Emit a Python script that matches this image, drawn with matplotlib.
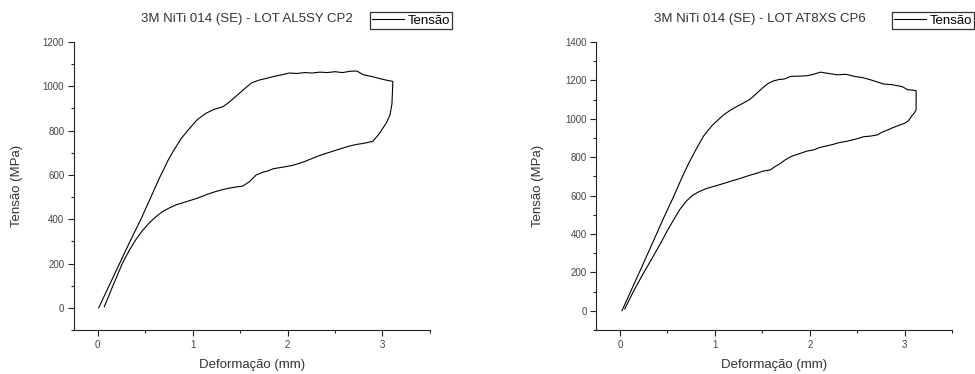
import numpy as np
import matplotlib
matplotlib.use("Agg")
from matplotlib import pyplot as plt
from matplotlib.ticker import MultipleLocator

# sample AL5SY CP2 - loading branch then unloading branch
x_cp2_load = [0.01, 0.12, 0.23, 0.34, 0.455, 0.56, 0.66, 0.74, 0.80, 0.88, 0.97, 1.05,
              1.14, 1.22, 1.32, 1.39, 1.47, 1.55, 1.62, 1.70, 1.78, 1.86, 1.94, 2.02,
              2.10, 2.18, 2.26, 2.34, 2.42, 2.50, 2.58, 2.66, 2.73, 2.80, 2.88, 2.96,
              3.04, 3.11]
y_cp2_load = [0, 100, 200, 300, 400, 500, 595, 665, 710, 765, 811, 850,
              878, 895, 908, 930, 960, 990, 1015, 1028, 1036, 1045, 1052, 1060,
              1058, 1062, 1060, 1064, 1062, 1066, 1062, 1068, 1069, 1052, 1045, 1036,
              1028, 1022]
x_cp2_unload = [3.11, 3.10, 3.08, 3.04, 2.97, 2.90, 2.84, 2.78, 2.73, 2.65, 2.58, 2.50,
                2.41, 2.34, 2.27, 2.20, 2.13, 2.06, 1.99, 1.92, 1.85, 1.79, 1.74, 1.67,
                1.60, 1.53, 1.45, 1.38, 1.30, 1.22, 1.14, 1.05, 0.94, 0.825, 0.75, 0.68,
                0.61, 0.54, 0.47, 0.40, 0.33, 0.26, 0.16, 0.07]
y_cp2_unload = [1020, 920, 871, 834, 788, 752, 746, 741, 738, 730, 721, 710,
                698, 688, 676, 664, 653, 644, 638, 633, 628, 618, 612, 600,
                570, 550, 545, 540, 532, 522, 510, 495, 480, 465, 450, 434,
                410, 382, 348, 307, 258, 201, 100, 6]

# sample AT8XS CP6
x_cp6_load = [0.02, 0.13, 0.24, 0.35, 0.46, 0.56, 0.64, 0.72, 0.80, 0.88, 0.97, 1.09,
              1.16, 1.23, 1.30, 1.37, 1.43, 1.50, 1.56, 1.62, 1.68, 1.73, 1.80, 1.88,
              1.97, 2.04, 2.11, 2.20, 2.29, 2.38, 2.47, 2.56, 2.64, 2.71, 2.78, 2.86,
              2.93, 2.98, 3.03, 3.08, 3.12]
y_cp6_load = [0, 120, 240, 362, 484, 590, 680, 765, 840, 910, 965, 1020,
              1044, 1064, 1082, 1102, 1128, 1160, 1184, 1198, 1205, 1207, 1221, 1222,
              1224, 1232, 1243, 1236, 1229, 1232, 1221, 1214, 1203, 1192, 1181, 1178,
              1172, 1166, 1151, 1150, 1146]
x_cp6_unload = [3.12, 3.12, 3.10, 3.07, 3.04, 3.00, 2.95, 2.88, 2.82, 2.76, 2.71, 2.64,
                2.57, 2.51, 2.45, 2.38, 2.31, 2.24, 2.17, 2.10, 2.04, 1.97, 1.90, 1.85,
                1.80, 1.74, 1.69, 1.63, 1.58, 1.51, 1.44, 1.36, 1.27, 1.18, 1.09, 1.03,
                0.91, 0.83, 0.76, 0.70, 0.63, 0.56, 0.49, 0.42, 0.345, 0.24, 0.14,
                0.05]
y_cp6_unload = [1146, 1047, 1030, 1012, 990, 977, 968, 955, 942, 930, 916, 910,
                907, 898, 890, 882, 876, 866, 858, 850, 838, 832, 820, 812,
                803, 786, 768, 750, 733, 728, 716, 705, 690, 677, 663, 654,
                637, 620, 600, 572, 528, 470, 410, 345, 280, 190, 100,
                10]

plt.rcParams["font.family"] = ["Liberation Sans", "DejaVu Sans"]

fig = plt.figure(figsize=(9.75, 3.74), dpi=100)

panels = [
    ([0.0759, 0.1176, 0.365, 0.7701], x_cp2_load, y_cp2_load, x_cp2_unload, y_cp2_unload,
     "3M NiTi 014 (SE) - LOT AL5SY CP2", 0.486, (-100, 1200), -0.143),
    ([0.6116, 0.1176, 0.365, 0.7701], x_cp6_load, y_cp6_load, x_cp6_unload, y_cp6_unload,
     "3M NiTi 014 (SE) - LOT AT8XS CP6", 0.46, (-100, 1400), -0.146),
]

for rect, xl, yl, xu, yu, title, tx, ylim, ylab_x in panels:
    ax = fig.add_axes(rect)
    x = np.concatenate([xl, xu])
    y = np.concatenate([yl, yu])
    ax.plot(x, y, color="black", lw=0.8, label="Tensão")

    ax.set_xlim(-0.25, 3.5)
    ax.set_ylim(*ylim)
    ax.xaxis.set_major_locator(MultipleLocator(1))
    ax.xaxis.set_minor_locator(MultipleLocator(0.5))
    ax.yaxis.set_major_locator(MultipleLocator(200))
    ax.yaxis.set_minor_locator(MultipleLocator(100))

    for side in ("top", "right"):
        ax.spines[side].set_visible(False)
    for side in ("left", "bottom"):
        ax.spines[side].set_linewidth(0.8)
        ax.spines[side].set_color("#222222")

    ax.tick_params(which="major", direction="out", length=4, width=0.8,
                   labelsize=7, labelcolor="#444444", color="#222222", pad=3)
    ax.tick_params(which="minor", direction="out", length=2.5, width=0.8,
                   color="#222222")

    ax.set_xlabel("Deformação (mm)", fontsize=9.5, color="#333333", va="center")
    ax.set_ylabel("Tensão (MPa)", fontsize=9.5, color="#333333")
    ax.xaxis.set_label_coords(0.5, -0.122)
    ax.yaxis.set_label_coords(ylab_x, 0.5)

    ax.text(tx, 1.08, title, transform=ax.transAxes, ha="center", va="center",
            fontsize=9.5, color="#333333")
    leg = ax.legend(loc="upper right", bbox_to_anchor=(1.062, 1.103),
                    borderaxespad=0, fancybox=False, framealpha=1,
                    edgecolor="#333333", fontsize=9.5, handlelength=2.4,
                    handletextpad=0.3, borderpad=0.15)
    leg.get_frame().set_linewidth(0.9)

fig.savefig("out.png", dpi=100)
